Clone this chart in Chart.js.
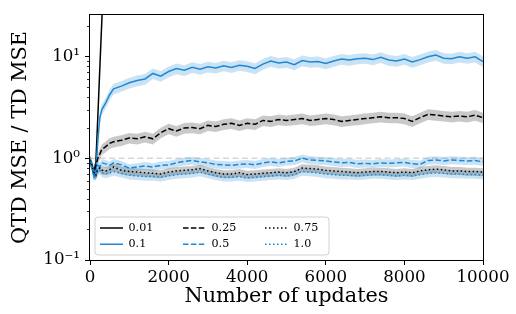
<!DOCTYPE html>
<html><head><meta charset="utf-8">
<script src="https://cdn.jsdelivr.net/npm/chart.js@4"></script>
<style>html,body{margin:0;padding:0;background:#fff;overflow:hidden}canvas{display:block}</style>
</head><body>
<canvas id="c" width="516" height="314"></canvas>
<script>
// ---- data ----
const updates = [0,50,100,150,200,250,300,400,500,600,
  800,1000,1200,1400,1600,1800,2000,2200,2400,2600,
  2800,3000,3200,3400,3600,3800,4000,4200,4400,4600,
  4800,5000,5200,5400,5600,5800,6000,6200,6400,6600,
  6800,7000,7200,7400,7600,7800,8000,8200,8400,8600,
  8800,9000,9200,9400,9600,9800,10000];

const rate001 = [0.95,0.85,0.72,0.92,2.6,7.7,22,190,null,null,
  null,null,null,null,null,null,null,null,null,null,
  null,null,null,null,null,null,null,null,null,null,
  null,null,null,null,null,null,null,null,null,null,
  null,null,null,null,null,null,null,null,null,null,
  null,null,null,null,null,null,null];

const rate01 = [0.95,0.82,0.66,0.75,1.5,2.5,3.0,3.5,4.2,4.8,
  5.1,5.5,5.8,6.0,6.8,6.4,7.1,7.6,7.3,7.8,
  7.5,7.9,7.7,8.1,7.8,8.2,8.0,7.6,8.4,9.0,
  8.6,8.8,8.3,9.1,8.8,8.9,8.5,9.0,9.4,9.2,
  9.5,9.6,9.3,9.8,9.2,9.0,9.4,8.8,9.3,9.9,
  10.3,9.6,9.5,9.9,9.6,9.9,8.9];

const rate025 = [0.95,0.85,0.72,0.85,1.0,1.1,1.22,1.3,1.4,1.45,
  1.5,1.58,1.55,1.62,1.55,1.78,1.95,1.85,1.98,2.0,
  1.95,2.1,2.05,2.15,2.2,2.1,2.2,2.15,2.35,2.3,
  2.4,2.35,2.4,2.45,2.35,2.4,2.45,2.4,2.3,2.35,
  2.4,2.45,2.5,2.55,2.5,2.5,2.45,2.3,2.5,2.7,
  2.65,2.6,2.55,2.6,2.55,2.65,2.5];

const rate05 = [0.97,0.88,0.75,0.7,0.85,0.82,0.9,0.88,0.85,0.9,
  0.86,0.8,0.82,0.84,0.82,0.85,0.86,0.9,0.93,0.95,
  0.92,0.9,0.87,0.86,0.85,0.87,0.88,0.86,0.9,0.92,
  0.9,0.93,0.94,1.0,0.96,0.95,0.94,0.92,0.9,0.91,
  0.88,0.89,0.88,0.9,0.89,0.9,0.91,0.88,0.87,0.95,
  0.96,0.94,0.96,0.95,0.94,0.95,0.92];

const rate075 = [0.95,0.85,0.7,0.68,0.78,0.8,0.76,0.75,0.77,0.82,
  0.76,0.74,0.73,0.72,0.71,0.7,0.73,0.75,0.76,0.77,
  0.79,0.75,0.72,0.7,0.7,0.72,0.69,0.7,0.71,0.72,
  0.73,0.72,0.74,0.8,0.79,0.78,0.76,0.75,0.74,0.73,
  0.72,0.73,0.74,0.74,0.73,0.72,0.73,0.72,0.75,0.77,
  0.78,0.77,0.75,0.75,0.74,0.74,0.73];

const rate10 = [0.93,0.82,0.68,0.66,0.74,0.76,0.72,0.7,0.72,0.74,
  0.71,0.68,0.67,0.66,0.66,0.65,0.67,0.69,0.7,0.71,
  0.73,0.7,0.67,0.65,0.65,0.66,0.64,0.65,0.66,0.67,
  0.68,0.67,0.69,0.74,0.73,0.72,0.7,0.69,0.68,0.68,
  0.67,0.68,0.69,0.69,0.68,0.67,0.68,0.67,0.69,0.71,
  0.72,0.71,0.7,0.7,0.69,0.69,0.68];

const seriesLabels = ['0.01','0.1','0.25','0.5','0.75','1.0'];
const seriesValues = [rate001, rate01, rate025, rate05, rate075, rate10];
// relative half-width of the shaded band around each curve
const bandHalfWidth = [null, 0.12, 0.12, 0.09, 0.09, 0.09];
const refX = [0, 10000];
const refY = [1, 1];
const xTicks = [0,2000,4000,6000,8000,10000];
const yMajorTicks = [0.1, 1, 10];
const yTickLabels = ['10\u207B\u00B9', '10\u2070', '10\u00B9'];

// ---- styles ----
const BLUE = '#1f88d4';
const BLUE_BAND = 'rgba(31,136,212,0.24)';
const GRAY_BAND = 'rgba(0,0,0,0.21)';
const DASHED = [5.5, 2.4];
const DOTTED = [1.5, 2.5];
const styles = [
  {color:'#000', dash:[], band:GRAY_BAND},
  {color:BLUE, dash:[], band:BLUE_BAND},
  {color:'#000', dash:DASHED, band:GRAY_BAND},
  {color:BLUE, dash:DASHED, band:BLUE_BAND},
  {color:'#000', dash:DOTTED, band:GRAY_BAND},
  {color:BLUE, dash:DOTTED, band:BLUE_BAND}
];

const FONT = 'DejaVu Serif';
Chart.defaults.font.family = FONT;
Chart.defaults.color = '#000';

const pts = (vals) => updates.map((u, i) => ({x: u, y: vals[i]}));

const datasets = [];
seriesLabels.forEach((lab, k) => {
  const st = styles[k];
  datasets.push({
    label: lab, data: pts(seriesValues[k]),
    borderColor: st.color, backgroundColor: st.color, borderDash: st.dash,
    borderWidth: 1.5, pointRadius: 0, tension: 0, fill: false,
    order: 10 - k, spanGaps: false
  });
});
seriesLabels.forEach((lab, k) => {
  const h = bandHalfWidth[k];
  if (h === null) return;
  const vals = seriesValues[k];
  const lo = vals.map(v => v === null ? null : v * (1 - h));
  const hi = vals.map(v => v === null ? null : v * (1 + h));
  datasets.push({data: pts(lo), borderWidth: 0, pointRadius: 0, fill: false, order: 20 + k});
  datasets.push({data: pts(hi), borderWidth: 0, pointRadius: 0, fill: '-1',
    backgroundColor: styles[k].band, order: 20 + k});
});
datasets.push({data: refX.map((x, i) => ({x, y: refY[i]})), borderColor: '#d8d8d8',
  borderDash: [6, 3.5], borderWidth: 1.5, pointRadius: 0, fill: false, order: 40});

const LEG = {left: 95, top: 217.5, width: 234, height: 39};

const framePlugin = {
  id: 'frame',
  afterLayout(chart) {
    const lg = chart.legend;
    if (!lg) return;
    lg.maxHeight = LEG.height;
    lg.maxWidth = 400;
    lg.fit();
    if (lg.columnSizes && lg.columnSizes.length >= 3) {
      lg.columnSizes[0].width = 78;
      lg.columnSizes[1].width = 77;
    }
    lg.left = LEG.left; lg.top = LEG.top;
    lg.width = LEG.width; lg.height = LEG.height;
    lg.right = LEG.left + LEG.width; lg.bottom = LEG.top + LEG.height;
  },
  beforeDraw(chart) {
    const ctx = chart.ctx;
    const x = LEG.left, y = 217, w = LEG.width, h = 38, r = 3;
    ctx.save();
    ctx.beginPath();
    ctx.moveTo(x + r, y); ctx.lineTo(x + w - r, y); ctx.arcTo(x + w, y, x + w, y + r, r);
    ctx.lineTo(x + w, y + h - r); ctx.arcTo(x + w, y + h, x + w - r, y + h, r);
    ctx.lineTo(x + r, y + h); ctx.arcTo(x, y + h, x, y + h - r, r);
    ctx.lineTo(x, y + r); ctx.arcTo(x, y, x + r, y, r); ctx.closePath();
    ctx.fillStyle = 'rgba(255,255,255,0.8)'; ctx.fill();
    ctx.lineWidth = 1; ctx.strokeStyle = '#d0d0d0';
    ctx.translate(0.5, 0.5); ctx.stroke();
    ctx.restore();
  },
  afterDraw(chart) {
    const ctx = chart.ctx, a = chart.chartArea, ys = chart.scales.y;
    ctx.save();
    // minor ticks of the log axis
    ctx.strokeStyle = '#000'; ctx.lineWidth = 0.8;
    [0.1, 1, 10].forEach(d => {
      for (let m = 2; m <= 9; m++) {
        const v = d * m;
        if (v > ys.max) break;
        const py = Math.round(ys.getPixelForValue(v)) + 0.5;
        ctx.beginPath(); ctx.moveTo(a.left - 3, py); ctx.lineTo(a.left, py); ctx.stroke();
      }
    });
    // spines
    ctx.lineWidth = 1;
    ctx.strokeRect(Math.round(a.left) - 0.5, Math.round(a.top) - 0.5,
      Math.round(a.right - a.left) + 1, Math.round(a.bottom - a.top) + 1);
    ctx.restore();
  }
};

new Chart(document.getElementById('c'), {
  type: 'line',
  data: {datasets},
  options: {
    responsive: false, animation: false, devicePixelRatio: 1,
    layout: {padding: {left: 0, top: 5, right: 33, bottom: 0}},
    plugins: {
      tooltip: {enabled: false},
      legend: {
        position: 'chartArea', align: 'start',
        labels: {
          usePointStyle: true, pointStyle: 'line', pointStyleWidth: 23,
          padding: 5, color: '#000', font: {family: FONT, size: 11.1},
          generateLabels: (chart) => Chart.defaults.plugins.legend.labels.generateLabels(chart).map(l => {
            const ds = chart.data.datasets[l.datasetIndex];
            l.lineDash = ds.borderDash || [];
            l.lineWidth = 1.5;
            l.strokeStyle = ds.borderColor;
            l.fillStyle = ds.borderColor;
            return l;
          }),
          filter: (item) => !!item.text,
          sort: (a, b) => a.datasetIndex - b.datasetIndex
        }
      }
    },
    scales: {
      x: {
        type: 'linear', min: 0, max: 10000,
        afterBuildTicks: (s) => { s.ticks = xTicks.map(v => ({value: v})); },
        afterFit: (s) => { s.height = 54; },
        ticks: {callback: (v) => String(v), font: {size: 16.67}, padding: 2.5, maxRotation: 0, color: '#000'},
        grid: {drawOnChartArea: false, drawTicks: true, tickLength: 5, color: '#000', lineWidth: 1},
        border: {display: false},
        title: {display: true, text: 'Number of updates', font: {size: 20.8}, color: '#000', padding: {top: 0, bottom: 4.5}}
      },
      y: {
        type: 'logarithmic', min: 0.1, max: 25.5,
        afterBuildTicks: (s) => { s.ticks = yMajorTicks.map(v => ({value: v})); },
        afterFit: (s) => { s.width = 90; },
        ticks: {
          callback: (v) => { const i = yMajorTicks.indexOf(v); return i >= 0 ? yTickLabels[i] : ''; },
          font: {size: 16.67}, padding: 5, color: '#000'
        },
        grid: {drawOnChartArea: false, drawTicks: true, tickLength: 5, color: '#000', lineWidth: 1},
        border: {display: false},
        title: {display: true, text: 'QTD MSE / TD MSE', font: {size: 20.8}, color: '#000', padding: {top: 8.5, bottom: 0}}
      }
    }
  },
  plugins: [framePlugin]
});
</script>
</body></html>
